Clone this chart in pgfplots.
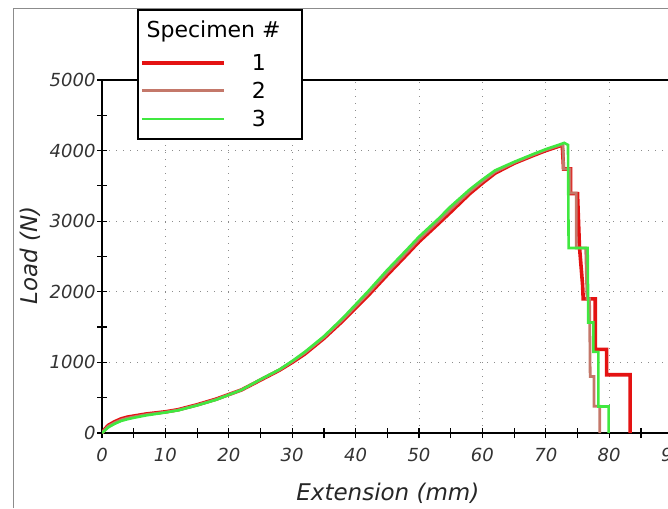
\documentclass[border=0pt]{standalone}
\usepackage{pgfplots}
\pgfplotsset{compat=1.18}
\usepackage{fontspec}
\setmainfont{DejaVu Sans}
\definecolor{cRed}{RGB}{228,18,18}
\definecolor{cBrown}{RGB}{196,120,106}
\definecolor{cGreen}{RGB}{64,232,64}
\begin{document}
\begin{tikzpicture}[x=1pt,y=1pt]
\useasboundingbox (0,0) rectangle (668,508);
\clip (0,0) rectangle (668,508);
\draw[black!45, line width=1pt] (13,0) -- (13,499) -- (668,499);
\begin{axis}[
 at={(102pt,75pt)}, anchor=south west, scale only axis,
 width=570.6pt, height=353pt,
 xmin=0, xmax=90, ymin=0, ymax=5000,
 xtick={0,10,...,90}, ytick={0,1000,...,5000},
 minor x tick num=1, minor y tick num=1,
 tick pos=left, tick align=center,
 major tick length=10pt, minor tick length=10pt,
 every tick/.style={black, line width=1.2pt},
 grid=major,
 major grid style={black!45, line width=0.9pt, dash pattern=on 1pt off 6pt},
 x axis line style={black, line width=2.6pt},
 y axis line style={black, line width=2pt},
 ticklabel style={font=\itshape\fontsize{18}{21}\selectfont, text=black!80},
 xticklabel style={yshift=-7pt},
 yticklabel style={xshift=2pt},
 /pgf/number format/assume math mode=true,
 /pgf/number format/1000 sep={},
 scaled y ticks=false,
 xlabel={Extension (mm)}, ylabel={Load (N)},
 label style={font=\itshape\fontsize{23}{26}\selectfont, text=black!85},
 xlabel style={at={(axis description cs:0.501,-0.170)}, anchor=center},
 ylabel style={at={(axis description cs:-0.126,0.504)}, anchor=center},
 legend cell align=left,
 legend style={at={(axis description cs:0.0613,1.2011)}, anchor=north west,
   draw=black, line width=1.6pt, fill=white, inner xsep=0pt, inner ysep=6pt,
   row sep=0pt, column sep=0pt, nodes={inner sep=0pt, draw=none, fill=none},
   font=\fontsize{22}{26}\selectfont},
 legend image code/.code={\draw[#1, fill=none] (4pt,0pt) -- (86pt,0pt); \path[draw=none, fill=none] (0pt,-14pt) rectangle (90pt,14pt);},
]
\addlegendimage{legend image code/.code={\node[overlay,anchor=west,inner sep=0pt,draw=none,fill=none] at (8pt,0pt) {Specimen \#}; \path[draw=none, fill=none] (0pt,-19pt) rectangle (90pt,14pt);}}
\addlegendentry{}
% Specimen 1
\addplot[cRed, line width=3.6pt, line join=miter] coordinates {
(0,0) (0.5,60) (1,110) (2,160) (3,200) (4,225) (5,240) (7,270) (10,300) (12,330)
(15,400) (18,480) (20,545) (22,610) (25,750) (28,890) (30,1000) (32,1120) (35,1340)
(38,1590) (40,1770) (42,1950) (45,2240) (48,2520) (50,2710) (53,2960) (55,3130)
(58,3390) (60,3540) (62,3680) (65,3820) (68,3930) (70,4000) (72,4060) (72.6,4080)
(72.8,3740) (73.9,3740) (73.9,3390) (75.0,3390) (75.3,2650) (75.8,2100) (75.9,1900)
(77.8,1900) (77.8,1185) (79.6,1185) (79.6,825) (83.3,825) (83.3,0)
};
\addlegendentry{\makebox[74pt][l]{\makebox[62pt]{1}}}
% Specimen 2
\addplot[cBrown, line width=2.8pt] coordinates {
(0,0) (0.5,50) (1,95) (2,145) (3,185) (4,210) (5,228) (7,260) (10,295) (12,325)
(15,395) (18,475) (20,542) (22,610) (25,755) (28,895) (30,1010) (32,1135) (35,1355)
(38,1610) (40,1795) (42,1980) (45,2275) (48,2555) (50,2745) (53,2995) (55,3170)
(58,3420) (60,3565) (62,3700) (65,3830) (68,3940) (70,4010) (72,4070) (72.7,4090)
(72.8,3740) (73.8,3740) (73.8,3400) (74.8,3400) (74.8,2620) (76.3,2620) (76.5,1900)
(76.9,1900) (77.0,800) (77.6,800) (77.6,380) (78.5,380) (78.5,0)
};
\addlegendentry{\makebox[74pt][l]{\makebox[62pt]{2}}}
% Specimen 3
\addplot[cGreen, line width=2.6pt, line join=miter] coordinates {
(0,0) (0.5,40) (1,80) (2,130) (3,170) (4,195) (5,215) (7,250) (10,290) (12,320)
(15,390) (18,470) (20,540) (22,610) (25,760) (28,900) (30,1020) (32,1150) (35,1370)
(38,1630) (40,1820) (42,2010) (45,2310) (48,2590) (50,2780) (53,3030) (55,3210)
(58,3450) (60,3590) (62,3720) (65,3840) (68,3950) (70,4020) (72,4080) (72.9,4110)
(73.5,4080) (73.6,2620) (76.6,2620) (76.7,1565) (77.5,1565) (77.5,1150) (78.3,1150)
(78.3,375) (79.9,375) (79.9,0)
};
\addlegendentry{\makebox[74pt][l]{\makebox[62pt]{3}}}
\end{axis}
\end{tikzpicture}
\end{document}
